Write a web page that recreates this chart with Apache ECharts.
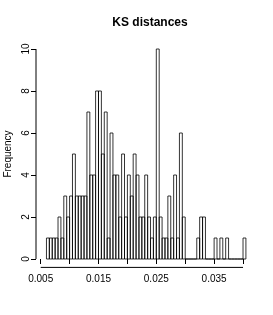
<!DOCTYPE html>
<html>
<head>
<meta charset="utf-8">
<script src="https://cdn.jsdelivr.net/npm/echarts@6/dist/echarts.min.js"></script>
<style>
html,body{margin:0;padding:0;background:#fff;}
#chart{width:273px;height:315px;}
</style>
</head>
<body>
<div id="chart"></div>
<script>
// Histogram of KS distances
const title = "KS distances";
const yName = "Frequency";
const binStart = 0.006;
const binWidth = 0.0005;
const counts = [
  1,1,1,1,2,1,3,2,3,5,
  3,3,3,3,7,4,4,8,8,5,
  7,1,6,4,4,2,5,2,4,3,
  5,4,2,2,4,2,1,2,10,2,
  1,1,3,1,4,1,6,2,0,0,
  0,0,1,2,2,0,0,0,1,0,
  1,0,1,0,0,0,0,0,1
];
const xTicks = [0.005,0.010,0.015,0.020,0.025,0.030,0.035,0.040];
const xLabels = [0.005,0.015,0.025,0.035];
const yTicks = [0,2,4,6,8,10];

const xMin = 0.00419, xMax = 0.0419;
const yMin = -0.4, yMax = 10.4;

const bins = counts.map((c, i) => [binStart + i * binWidth, binStart + (i + 1) * binWidth, c]);

const font = "Liberation Sans, Arial, Helvetica, sans-serif";
const chart = echarts.init(document.getElementById('chart'), null, {renderer: 'canvas'});
chart.setOption({
  animation: false,
  backgroundColor: '#fff',
  title: {
    text: title,
    left: 145, top: 12, textAlign: 'center',
    textStyle: {fontFamily: font, fontSize: 12, fontWeight: 'bold', color: '#000'}
  },
  grid: {left: 36, right: 19, top: 40.6, bottom: 47.6, containLabel: false, outerBoundsMode: 'none'},
  xAxis: {
    type: 'value', min: xMin, max: xMax,
    splitLine: {show: false},
    axisLine: {show: false},
    axisTick: {show: true, length: 5, customValues: xTicks, lineStyle: {color: '#000', width: 1}},
    axisLabel: {customValues: xLabels, margin: 7, color: '#000', fontFamily: font, fontSize: 10,
      formatter: v => v.toFixed(3)}
  },
  yAxis: {
    type: 'value', min: yMin, max: yMax,
    name: yName, nameLocation: 'middle', nameGap: 12, nameRotate: 90,
    nameTextStyle: {fontFamily: font, fontSize: 10, color: '#000'},
    splitLine: {show: false},
    axisLine: {show: false},
    axisTick: {show: true, length: 5, customValues: yTicks, lineStyle: {color: '#000', width: 1}},
    axisLabel: {customValues: yTicks, rotate: 90, margin: 5, color: '#000', fontFamily: font, fontSize: 10}
  },
  series: [
    {
      type: 'custom',
      data: bins,
      encode: {x: [0, 1], y: 2},
      renderItem: function (params, api) {
        const p0 = api.coord([api.value(0), api.value(2)]);
        const p1 = api.coord([api.value(1), 0]);
        return {
          type: 'rect',
          shape: {x: p0[0], y: p0[1], width: p1[0] - p0[0], height: p1[1] - p0[1]},
          style: {fill: 'rgba(0,0,0,0)', stroke: '#000', lineWidth: 0.8}
        };
      }
    },
    {
      type: 'line', data: [[xTicks[0], yMin], [xTicks[xTicks.length - 1], yMin]],
      symbol: 'none', clip: false, lineStyle: {color: '#000', width: 1}
    },
    {
      type: 'line', data: [[xMin, yTicks[0]], [xMin, yTicks[yTicks.length - 1]]],
      symbol: 'none', clip: false, lineStyle: {color: '#000', width: 1}
    }
  ]
});
</script>
</body>
</html>
